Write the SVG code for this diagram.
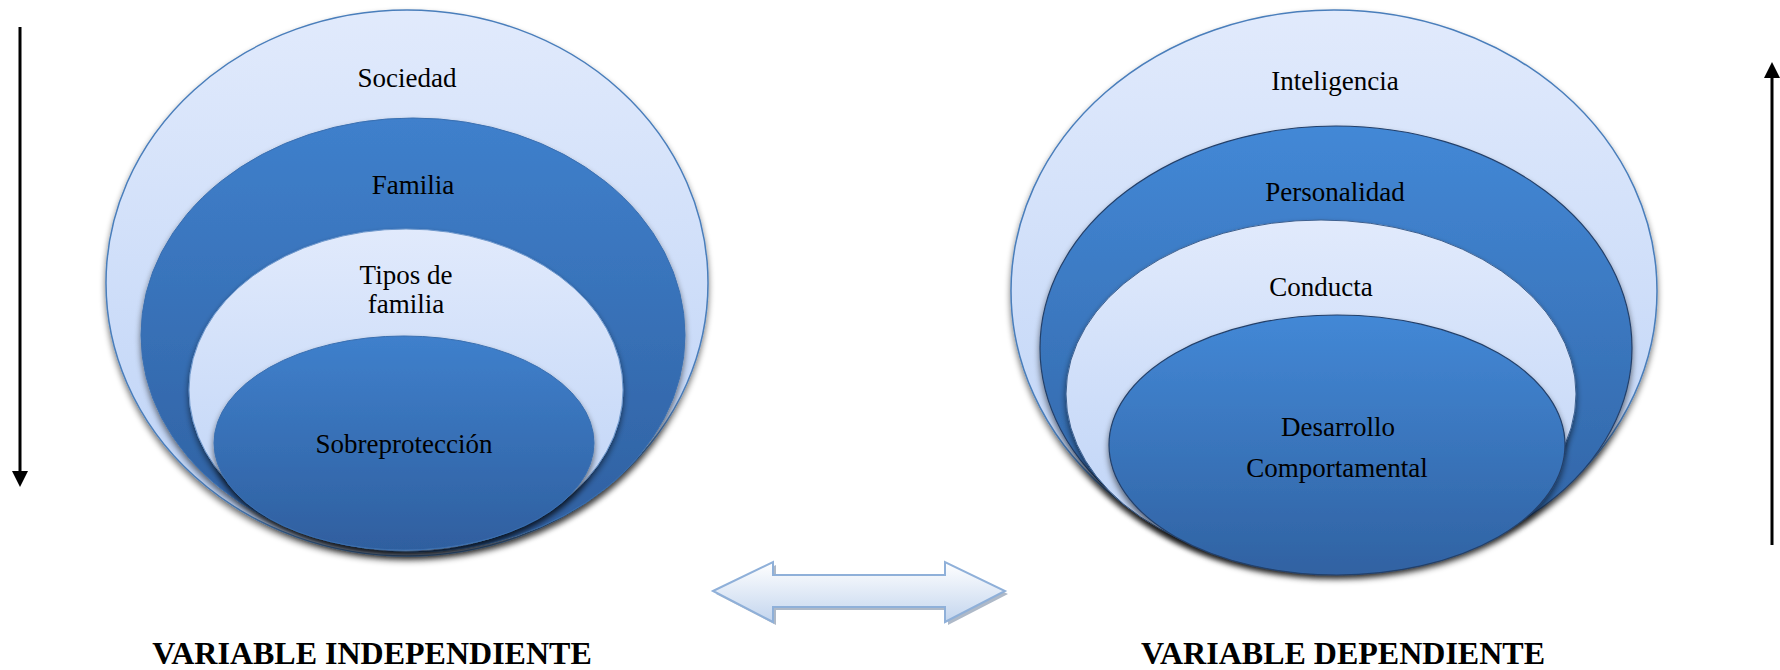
<svg xmlns="http://www.w3.org/2000/svg" width="1780" height="670" viewBox="0 0 1780 670">
<defs>
<linearGradient id="gLight" x1="0" y1="0" x2="0" y2="1">
<stop offset="0" stop-color="#e1eafc"/>
<stop offset="1" stop-color="#bcd2f6"/>
</linearGradient>
<linearGradient id="gDark" x1="0" y1="0" x2="0" y2="1">
<stop offset="0" stop-color="#3f80cc"/>
<stop offset="1" stop-color="#2f5f9f"/>
</linearGradient>
<linearGradient id="gDark2" x1="0" y1="0" x2="0" y2="1">
<stop offset="0" stop-color="#4388d6"/>
<stop offset="1" stop-color="#3062a2"/>
</linearGradient>
<linearGradient id="gArrow" x1="0" y1="0" x2="0" y2="1">
<stop offset="0" stop-color="#ffffff"/>
<stop offset="1" stop-color="#c3d5ee"/>
</linearGradient>
<filter id="shadow" x="-10%" y="-10%" width="120%" height="125%">
<feGaussianBlur in="SourceAlpha" stdDeviation="3"/>
<feOffset dx="0" dy="4" result="b"/>
<feComponentTransfer><feFuncA type="linear" slope="0.55"/></feComponentTransfer>
<feMerge><feMergeNode/><feMergeNode in="SourceGraphic"/></feMerge>
</filter>
<marker id="ah" viewBox="0 0 16 16" refX="8" refY="8" markerWidth="16" markerHeight="16" markerUnits="userSpaceOnUse" orient="auto">
<path d="M0,0 L16,8 L0,16 Z" fill="#000"/>
</marker>
<style>
.light{fill:url(#gLight);stroke:#4a7ebb;stroke-width:1.5;filter:url(#shadow)}
.dark{fill:url(#gDark);stroke:#3a6fb0;stroke-width:1;filter:url(#shadow)}
.dark2{fill:url(#gDark2);stroke:#24406a;stroke-width:1.2;filter:url(#shadow)}
.lightR{fill:url(#gLight);stroke:#3c5f8e;stroke-width:1;filter:url(#shadow)}
.t{font-family:"Liberation Serif","Times New Roman",serif;font-size:27px;fill:#000;text-anchor:middle}
.lab{font-family:"Liberation Serif","Times New Roman",serif;font-size:32px;font-weight:bold;fill:#000;text-anchor:middle}
.ax{stroke:#000;stroke-width:3;fill:none}
</style>
</defs>

<g id="left-diagram">
<g id="n-sociedad"><ellipse class="light" cx="407" cy="283" rx="301" ry="273"/><text class="t" x="407" y="87">Sociedad</text></g>
<g id="n-familia"><ellipse class="dark" cx="413" cy="335" rx="272" ry="217"/><text class="t" x="413" y="194">Familia</text></g>
<g id="n-tipos"><ellipse class="light" style="stroke:#6f98cc;stroke-width:1" cx="406" cy="390" rx="217" ry="161"/><text class="t" x="406" y="284">Tipos de</text><text class="t" x="406" y="313">familia</text></g>
<g id="n-sobreproteccion"><ellipse class="dark" cx="404" cy="443" rx="190" ry="107"/><text class="t" x="404" y="453">Sobreprotección</text></g>
</g>

<g id="right-diagram">
<g id="n-inteligencia"><ellipse class="light" cx="1334" cy="291" rx="323" ry="281"/><text class="t" x="1335" y="90">Inteligencia</text></g>
<g id="n-personalidad"><ellipse class="dark2" cx="1336" cy="348" rx="296" ry="222"/><text class="t" x="1335" y="201">Personalidad</text></g>
<g id="n-conducta"><ellipse class="lightR" cx="1321" cy="394" rx="255" ry="174"/><text class="t" x="1321" y="296">Conducta</text></g>
<g id="n-desarrollo"><ellipse class="dark2" cx="1337" cy="445" rx="228" ry="130"/><text class="t" x="1338" y="436">Desarrollo</text><text class="t" x="1337" y="477">Comportamental</text></g>
</g>

<g id="connectors">
<line class="ax" x1="20" y1="27" x2="20" y2="479" marker-end="url(#ah)"/>
<line class="ax" x1="1772" y1="545" x2="1772" y2="70" marker-end="url(#ah)"/>
<g id="double-arrow">
<path d="M716,594 L776,565 L776,578 L948,578 L948,565 L1008,594 L948,625 L948,610 L776,610 L776,625 Z" fill="#9aa8ba" opacity="0.8"/>
<path d="M713,591 L773,562 L773,575 L945,575 L945,562 L1005,591 L945,622 L945,607 L773,607 L773,622 Z" fill="url(#gArrow)" stroke="#8fb0d9" stroke-width="2" stroke-linejoin="miter"/>
</g>
</g>

<g id="labels">
<text class="lab" x="372" y="664">VARIABLE INDEPENDIENTE</text>
<text class="lab" x="1343" y="664">VARIABLE DEPENDIENTE</text>
</g>
</svg>
